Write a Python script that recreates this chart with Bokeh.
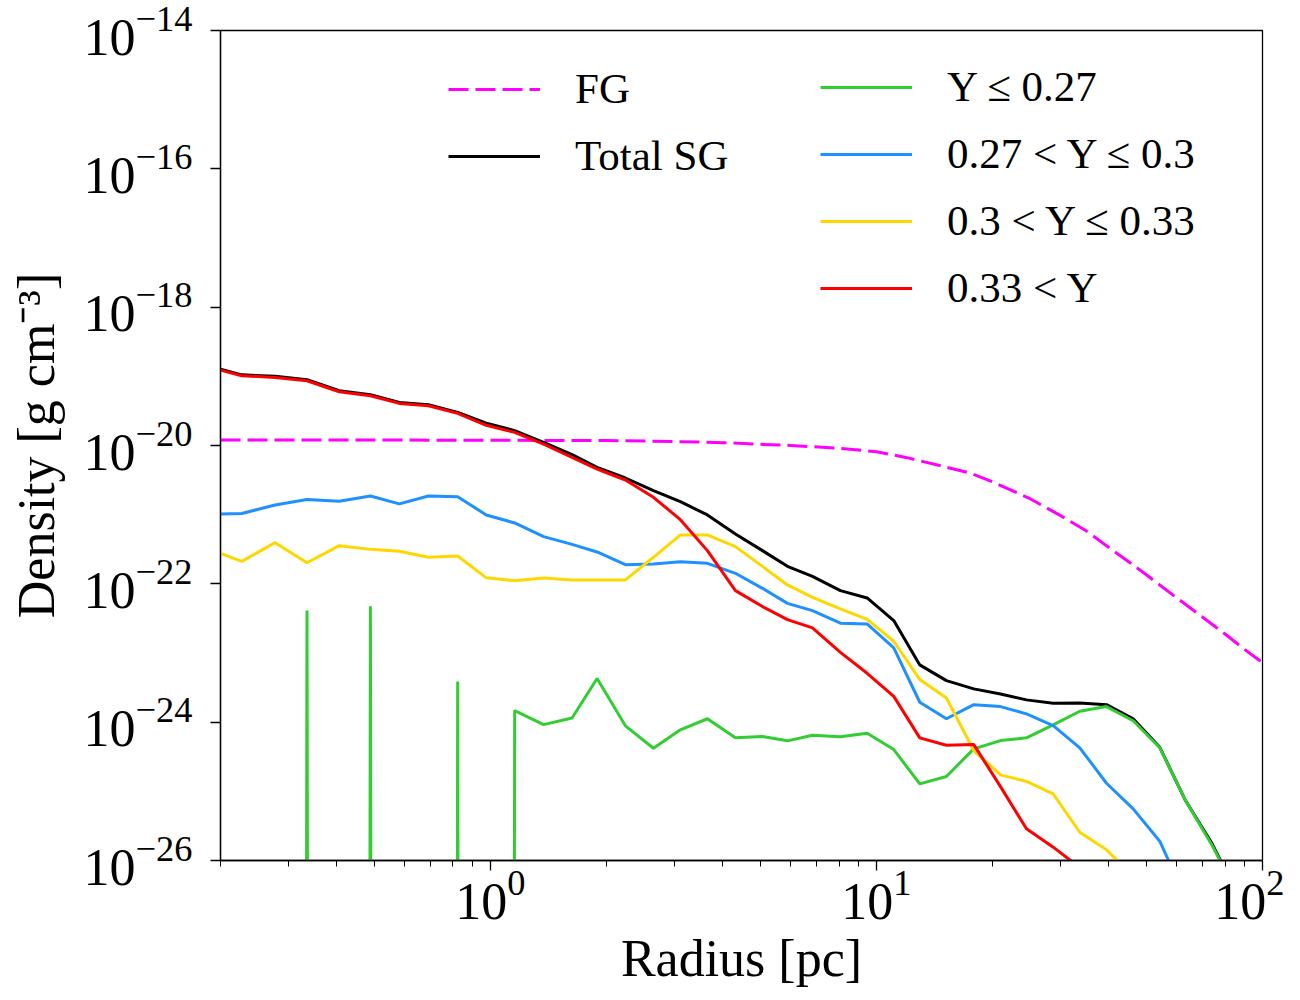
from bokeh.plotting import figure
from bokeh.models import FixedTicker, Legend, LegendItem, Range1d
from bokeh.embed import file_html
from bokeh.resources import INLINE

# radial bins [pc]
radius = [0.200, 0.227, 0.277, 0.335, 0.406, 0.489, 0.581, 0.691, 0.823, 0.976,
          1.156, 1.374, 1.628, 1.890, 2.238, 2.645, 3.106, 3.649, 4.313, 5.067,
          5.882, 6.828, 8.067, 9.461, 11.09, 12.95, 15.18, 17.87, 20.96, 24.47,
          28.70, 33.63, 39.44, 46.24, 54.19, 63.18, 74.08, 86.67]

nan = float("nan")

total_sg = [1.27e-19, 1.05e-19, 1.00e-19, 8.93e-20, 6.19e-20, 5.42e-20, 4.20e-20, 3.89e-20, 3.01e-20, 2.10e-20,
            1.64e-20, 1.11e-20, 7.36e-21, 4.83e-21, 3.39e-21, 2.22e-21, 1.54e-21, 9.91e-22, 5.26e-22, 3.02e-22,
            1.79e-22, 1.28e-22, 7.98e-23, 6.25e-23, 2.94e-23, 6.73e-24, 3.99e-24, 3.03e-24, 2.56e-24, 2.10e-24,
            1.88e-24, 1.90e-24, 1.79e-24, 1.12e-24, 4.33e-25, 7.36e-26, 1.74e-26, 3.0e-27]

y_low = [0, 0, 0, 4.10e-23, 0, 4.73e-23, 0, 0, 3.86e-24, 0,
         1.47e-24, 9.22e-25, 1.15e-24, 4.27e-24, 8.86e-25, 4.20e-25, 7.75e-25, 1.12e-24, 5.93e-25, 6.19e-25,
         5.37e-25, 6.47e-25, 6.14e-25, 6.92e-25, 4.02e-25, 1.28e-25, 1.64e-25, 4.11e-25, 5.42e-25, 5.93e-25,
         9.14e-25, 1.44e-24, 1.68e-24, 1.05e-24, 4.26e-25, 7.36e-26, 1.65e-26, 3.0e-27]

y_mid1 = [1.02e-21, 1.04e-21, 1.38e-21, 1.66e-21, 1.56e-21, 1.86e-21, 1.43e-21, 1.86e-21, 1.82e-21, 9.91e-22,
          7.59e-22, 4.81e-22, 3.72e-22, 2.89e-22, 1.89e-22, 1.94e-22, 2.09e-22, 1.98e-22, 1.42e-22, 8.61e-23,
          5.22e-23, 4.10e-23, 2.70e-23, 2.63e-23, 1.19e-23, 1.94e-24, 1.12e-24, 1.79e-24, 1.68e-24, 1.32e-24,
          8.93e-25, 4.26e-25, 1.31e-25, 5.58e-26, 1.90e-26, 2.9e-27, nan, nan]

y_mid2 = [2.76e-22, 2.11e-22, 3.94e-22, 2.02e-22, 3.56e-22, 3.15e-22, 2.95e-22, 2.42e-22, 2.53e-22, 1.22e-22,
          1.11e-22, 1.21e-22, 1.14e-22, 1.14e-22, 1.14e-22, 2.42e-22, 5.09e-22, 5.09e-22, 3.45e-22, 1.79e-22,
          9.64e-23, 6.38e-23, 4.34e-23, 3.07e-23, 1.48e-23, 4.13e-24, 2.24e-24, 3.89e-25, 1.73e-25, 1.39e-25,
          9.20e-26, 2.56e-26, 1.43e-26, 5.9e-27, nan, nan, nan, nan]

y_high = [1.23e-19, 1.02e-19, 9.64e-20, 8.63e-20, 5.98e-20, 5.25e-20, 4.06e-20, 3.76e-20, 2.91e-20, 1.96e-20,
          1.55e-20, 1.05e-20, 6.73e-21, 4.57e-21, 3.17e-21, 1.78e-21, 8.47e-22, 3.02e-22, 7.98e-23, 4.69e-23,
          3.04e-23, 2.31e-23, 1.02e-23, 5.09e-24, 2.36e-24, 5.93e-25, 4.63e-25, 4.74e-25, 1.17e-25, 2.87e-26,
          1.56e-26, 7.9e-27, nan, nan, nan, nan, nan, nan]

# first generation profile
fg_radius = [0.2, 0.5, 1, 2, 3, 4, 5, 6, 8, 10, 12, 15, 17.5, 20, 25, 30, 35, 40, 45, 50, 60, 70, 80, 90, 100]
fg_density = [1.20e-20, 1.20e-20, 1.19e-20, 1.18e-20, 1.14e-20, 1.10e-20, 1.04e-20, 1.00e-20, 9.14e-21,
              8.13e-21, 6.67e-21, 4.94e-21, 3.98e-21, 2.98e-21, 1.70e-21, 9.68e-22, 5.81e-22, 3.35e-22,
              2.09e-22, 1.35e-22, 6.25e-23, 3.28e-23, 1.88e-23, 1.12e-23, 7.26e-24]

x_major = [1, 10, 100]
x_minor = [0.2, 0.3, 0.4, 0.5, 0.6, 0.7, 0.8, 0.9, 2, 3, 4, 5, 6, 7, 8, 9,
           20, 30, 40, 50, 60, 70, 80, 90]
y_major = [1e-26, 1e-24, 1e-22, 1e-20, 1e-18, 1e-16, 1e-14]

FONT = "Liberation Serif"

p = figure(x_axis_type="log", y_axis_type="log",
           x_range=Range1d(0.2, 100), y_range=Range1d(1e-26, 1e-14),
           frame_width=1042, frame_height=830,
           min_border_left=220, min_border_top=30, min_border_right=22, min_border_bottom=10,
           x_axis_label="Radius [pc]", y_axis_label="Density [g cm⁻³]",
           output_backend="svg", toolbar_location=None)

p.grid.visible = False
p.background_fill_color = "white"
p.border_fill_color = "white"
p.outline_line_color = "black"
p.outline_line_width = 1.3

p.xaxis.ticker = FixedTicker(ticks=x_major, minor_ticks=x_minor)
p.yaxis.ticker = FixedTicker(ticks=y_major)
p.yaxis.minor_tick_line_color = None

for ax in (p.xaxis, p.yaxis):
    ax.axis_label_text_font = FONT
    ax.axis_label_text_font_size = "52px"
    ax.axis_label_text_font_style = "normal"
    ax.axis_label_text_color = "black"
    ax.major_label_text_font = FONT
    ax.major_label_text_font_size = "52px"
    ax.major_label_text_color = "black"
    ax.axis_line_color = "black"
    ax.axis_line_width = 1.3
    ax.major_tick_line_color = "black"
    ax.minor_tick_line_width = 1.0
    ax.major_tick_line_width = 1.3
    ax.major_tick_in = 0
    ax.major_tick_out = 10
    ax.minor_tick_in = 0
    ax.minor_tick_out = 6

p.xaxis.minor_tick_line_color = "black"
p.xaxis.major_label_standoff = 0
p.xaxis.axis_label_standoff = 8
p.yaxis.major_label_standoff = 18
p.yaxis.axis_label_standoff = 16

# zero densities are clipped far below the axis, as a log plot does
y_low_plot = [v if v > 0 else 1e-300 for v in y_low]

r_fg = p.line(fg_radius, fg_density, line_color="magenta", line_width=3, line_dash="20 7")
r_tot = p.line(radius, total_sg, line_color="black", line_width=3)
r_low = p.line(radius, y_low_plot, line_color="limegreen", line_width=3)
r_mid1 = p.line(radius, y_mid1, line_color="dodgerblue", line_width=3)
r_mid2 = p.line(radius, y_mid2, line_color="gold", line_width=3)
r_high = p.line(radius, y_high, line_color="red", line_width=3)

leg1 = Legend(items=[LegendItem(label="FG", renderers=[r_fg]),
                     LegendItem(label="Total SG", renderers=[r_tot])],
              location=(228, 680))
leg2 = Legend(items=[LegendItem(label="Y ≤ 0.27", renderers=[r_low]),
                     LegendItem(label="0.27 < Y ≤ 0.3", renderers=[r_mid1]),
                     LegendItem(label="0.3 < Y ≤ 0.33", renderers=[r_mid2]),
                     LegendItem(label="0.33 < Y", renderers=[r_high])],
              location=(600, 548))
for leg in (leg1, leg2):
    leg.label_text_font = FONT
    leg.label_text_font_size = "43px"
    leg.label_text_color = "black"
    leg.glyph_width = 92
    leg.glyph_height = 48
    leg.label_height = 48
    leg.label_standoff = 35
    leg.spacing = 18
    leg.padding = 0
    leg.margin = 0
    leg.border_line_color = None
    leg.background_fill_alpha = 0
    p.add_layout(leg)

open("out.html", "w").write(file_html(p, INLINE))
